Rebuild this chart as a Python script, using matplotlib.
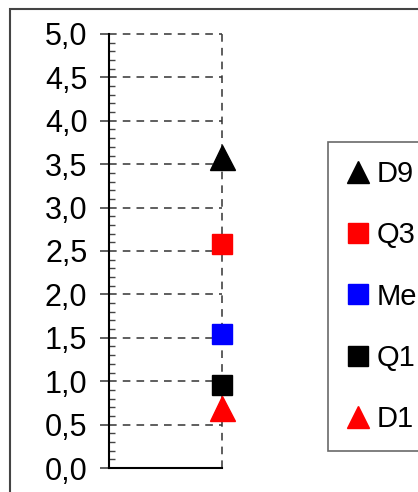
import matplotlib
matplotlib.use("Agg")
import matplotlib.pyplot as plt
from matplotlib.lines import Line2D
from matplotlib.patches import Rectangle
from matplotlib.ticker import MultipleLocator, FuncFormatter

plt.rcParams['font.family'] = ['Liberation Sans', 'DejaVu Sans']

# dados
labels = ["D9", "Q3", "Me", "Q1", "D1"]
values = [3.58, 2.58, 1.54, 0.96, 0.69]
markers = ["^", "s", "s", "s", "^"]
colors = ["black", "red", "blue", "black", "red"]
x_pos = 1

fig = plt.figure(figsize=(4.18, 4.92), dpi=100)
ax = fig.add_axes([109/418, 1 - 468/492, (222 - 109)/418, (468 - 34)/492])

# pontos
for lab, v, m, c in zip(labels, values, markers, colors):
    size = 18 if m == "^" else 15
    ax.plot([x_pos], [v], marker=m, color=c, markersize=size, linestyle="none",
            clip_on=False, zorder=5, label=lab)

ax.set_xlim(0, 1)
ax.set_ylim(0, 5)

# eixo y
ax.yaxis.set_major_locator(MultipleLocator(0.5))
ax.yaxis.set_minor_locator(MultipleLocator(0.1))
ax.yaxis.set_major_formatter(FuncFormatter(lambda v, p: f"{v:.1f}".replace(".", ",")))
ax.tick_params(axis="y", which="major", direction="out", length=6.5, width=1.2,
               labelsize=22, pad=9, color="#444444")
ax.tick_params(axis="y", which="minor", direction="in", length=4.3, width=1, color="#444444")
ax.set_xticks([0, 1])
ax.tick_params(axis="x", length=0, labelbottom=False)

# grade tracejada (sem recorte nas bordas)
ax.grid(True, which="major", axis="both", color="#333333", linestyle=(0, (5, 4)), linewidth=1.1)
ax.set_axisbelow(True)
for gl in ax.get_xgridlines() + ax.get_ygridlines():
    gl.set_clip_on(False)
for s in ["top", "right"]:
    ax.spines[s].set_visible(False)
ax.spines["left"].set_linewidth(1.5)
ax.spines["bottom"].set_linewidth(1.5)

# moldura externa (corta na borda da figura)
fig.patches.append(Rectangle((10/418, -0.1), 1.2, 1.1 - 9/492, transform=fig.transFigure,
                             fill=False, edgecolor="#444444", linewidth=1.5))

# legenda
handles = [Line2D([], [], marker=m, color=c, linestyle="none",
                  markersize=(16 if m == "^" else 15)) for m, c in zip(markers, colors)]
leg = fig.legend(handles, labels, loc="upper left",
                 bbox_to_anchor=(328/418, 1 - 142/492 - 0.1, 0.4, 0.1), mode="expand",
                 fontsize=21, frameon=True, fancybox=False, edgecolor="#444444",
                 labelspacing=1.14, borderpad=0.62, handlelength=0.8, handletextpad=0.25,
                 borderaxespad=0)
leg.get_frame().set_linewidth(1.2)

fig.savefig("out.png", dpi=100)
